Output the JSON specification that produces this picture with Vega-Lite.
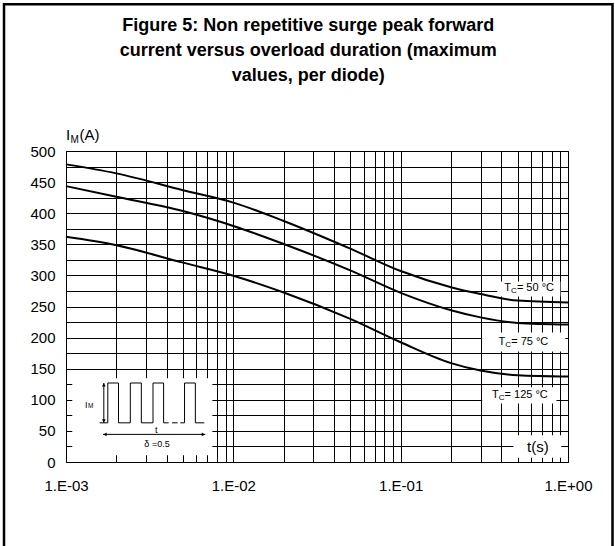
{
  "$schema": "https://vega.github.io/schema/vega-lite/v6.json",
  "width": 502,
  "height": 311,
  "autosize": {"type": "none"},
  "padding": {"left": 66, "top": 151, "right": 47, "bottom": 84},
  "background": "white",
  "title": {
    "text": ["Figure 5: Non repetitive surge peak forward", "current versus overload duration (maximum", "values, per diode)"],
    "font": "Liberation Sans",
    "fontSize": 18,
    "fontWeight": "bold",
    "color": "black",
    "lineHeight": 25,
    "anchor": "middle",
    "frame": "bounds",
    "offset": -82
  },
  "config": {
    "view": {"stroke": "black", "strokeWidth": 1},
    "font": "Liberation Sans",
    "text": {"font": "Liberation Sans", "color": "black"}
  },
  "datasets": {
    "frame": [{"t": 0.0004262, "t2": 1.845, "i": 736, "i2": -158}],
    "boxes": [
      {"name": "inset", "t": 0.00109, "t2": 0.00749, "i": 11, "i2": 134.5},
      {"name": "tc50", "t": 0.378, "t2": 0.9, "i": 266, "i2": 290},
      {"name": "tc75", "t": 0.307, "t2": 0.964, "i": 177.5, "i2": 208},
      {"name": "tc125", "t": 0.307, "t2": 0.853, "i": 94, "i2": 120},
      {"name": "ts", "t": 0.472, "t2": 0.91, "i": 7, "i2": 43}
    ],
    "curves": [
      {"series": "50", "t": 0.001, "i": 478.5},
      {"series": "50", "t": 0.002, "i": 464},
      {"series": "50", "t": 0.005, "i": 437},
      {"series": "50", "t": 0.01, "i": 417},
      {"series": "50", "t": 0.02, "i": 387.5},
      {"series": "50", "t": 0.05, "i": 343},
      {"series": "50", "t": 0.1, "i": 307},
      {"series": "50", "t": 0.2, "i": 281},
      {"series": "50", "t": 0.3, "i": 270},
      {"series": "50", "t": 0.5, "i": 259.5},
      {"series": "50", "t": 1, "i": 256.5},
      {"series": "75", "t": 0.001, "i": 443.5},
      {"series": "75", "t": 0.002, "i": 426.5},
      {"series": "75", "t": 0.005, "i": 403.5},
      {"series": "75", "t": 0.01, "i": 379.5},
      {"series": "75", "t": 0.02, "i": 350.5},
      {"series": "75", "t": 0.05, "i": 308},
      {"series": "75", "t": 0.1, "i": 272},
      {"series": "75", "t": 0.2, "i": 244},
      {"series": "75", "t": 0.3, "i": 232.5},
      {"series": "75", "t": 0.5, "i": 223.5},
      {"series": "75", "t": 1, "i": 221},
      {"series": "125", "t": 0.001, "i": 362},
      {"series": "125", "t": 0.002, "i": 348.5},
      {"series": "125", "t": 0.005, "i": 320.5},
      {"series": "125", "t": 0.01, "i": 299.5},
      {"series": "125", "t": 0.02, "i": 272.5},
      {"series": "125", "t": 0.05, "i": 230},
      {"series": "125", "t": 0.1, "i": 192.5},
      {"series": "125", "t": 0.2, "i": 159},
      {"series": "125", "t": 0.3, "i": 147},
      {"series": "125", "t": 0.5, "i": 139.5},
      {"series": "125", "t": 1, "i": 137.5}
    ],
    "pulse": [
      {"seg": "a", "k": 1, "t": 0.0015884, "i": 63},
      {"seg": "a", "k": 2, "t": 0.0017775, "i": 63},
      {"seg": "a", "k": 3, "t": 0.0017775, "i": 127},
      {"seg": "a", "k": 4, "t": 0.0020597, "i": 127},
      {"seg": "a", "k": 5, "t": 0.0020597, "i": 63},
      {"seg": "a", "k": 6, "t": 0.0024233, "i": 63},
      {"seg": "a", "k": 7, "t": 0.0024233, "i": 127},
      {"seg": "a", "k": 8, "t": 0.002819, "i": 127},
      {"seg": "a", "k": 9, "t": 0.002819, "i": 63},
      {"seg": "a", "k": 10, "t": 0.0033113, "i": 63},
      {"seg": "a", "k": 11, "t": 0.0033113, "i": 127},
      {"seg": "a", "k": 12, "t": 0.0038311, "i": 127},
      {"seg": "a", "k": 13, "t": 0.0038311, "i": 63},
      {"seg": "a", "k": 14, "t": 0.004105, "i": 63},
      {"seg": "b", "k": 1, "t": 0.0043017, "i": 63},
      {"seg": "b", "k": 2, "t": 0.0046474, "i": 63},
      {"seg": "c", "k": 1, "t": 0.0048231, "i": 63},
      {"seg": "c", "k": 2, "t": 0.0051098, "i": 63},
      {"seg": "c", "k": 3, "t": 0.0051098, "i": 127},
      {"seg": "c", "k": 4, "t": 0.0059293, "i": 127},
      {"seg": "c", "k": 5, "t": 0.0059293, "i": 63},
      {"seg": "c", "k": 6, "t": 0.0067083, "i": 63},
      {"seg": "v", "k": 1, "t": 0.0016827, "i": 63},
      {"seg": "v", "k": 2, "t": 0.0016827, "i": 127},
      {"seg": "h", "k": 1, "t": 0.001664, "i": 44.4},
      {"seg": "h", "k": 2, "t": 0.006801, "i": 44.4}
    ],
    "heads": [
      {"dir": "up", "t": 0.0016827, "i": 124},
      {"dir": "down", "t": 0.0016827, "i": 66},
      {"dir": "left", "t": 0.001711, "i": 44.4},
      {"dir": "right", "t": 0.006615, "i": 44.4}
    ],
    "tclabels": [
      {"t": 0.457, "i": 280, "rest": "= 50 °C"},
      {"t": 0.4223, "i": 192.5, "rest": "= 75 °C"},
      {"t": 0.3858, "i": 107.5, "rest": "= 125 °C"}
    ],
    "ylab": [{"t": 0.001, "i": 500}],
    "insettxt": [
      {"t": 0.0034646, "i": 51.4, "txt": "t"},
      {"t": 0.0034984, "i": 28.9, "txt": "δ =0.5"}
    ],
    "insetim": [{"t": 0.0012993, "i": 91.6}],
    "xlab": [{"t": 0.661, "i": 24.5, "txt": "t(s)"}]
  },
  "encoding": {
    "x": {
      "field": "t", "type": "quantitative",
      "scale": {"type": "log", "domain": [0.001, 1], "nice": false},
      "axis": {
        "title": null,
        "values": [0.001, 0.002, 0.003, 0.004, 0.005, 0.006, 0.007, 0.008, 0.009, 0.01, 0.02, 0.03, 0.04, 0.05, 0.06, 0.07, 0.08, 0.09, 0.1, 0.2, 0.3, 0.4, 0.5, 0.6, 0.7, 0.8, 0.9, 1],
        "labelExpr": "abs(log(datum.value)/LN10 - round(log(datum.value)/LN10)) < 0.001 ? ('1.E' + (round(log(datum.value)/LN10) < 0 ? '-' : '+') + '0' + abs(round(log(datum.value)/LN10))) : ''",
        "ticks": false,
        "domain": false,
        "grid": true,
        "gridColor": "black",
        "gridOpacity": 1,
        "gridWidth": 1,
        "labelFont": "Liberation Sans",
        "labelFontSize": 15,
        "labelColor": "black",
        "labelPadding": 16,
        "labelFlush": false,
        "labelOverlap": false,
        "labelBound": false
      }
    },
    "y": {
      "field": "i", "type": "quantitative",
      "scale": {"domain": [0, 500], "nice": false, "zero": false},
      "axis": {
        "title": null,
        "values": [0, 25, 50, 75, 100, 125, 150, 175, 200, 225, 250, 275, 300, 325, 350, 375, 400, 425, 450, 475, 500],
        "labelExpr": "datum.value % 50 == 0 ? datum.label : ''",
        "ticks": false,
        "domain": false,
        "grid": true,
        "gridColor": "black",
        "gridOpacity": 1,
        "gridWidth": 1,
        "labelFont": "Liberation Sans",
        "labelFontSize": 15,
        "labelColor": "black",
        "labelPadding": 11,
        "labelFlush": false,
        "labelOverlap": false
      }
    }
  },
  "layer": [
    {
      "data": {"name": "frame"},
      "mark": {"type": "rect", "filled": false, "stroke": "black", "strokeWidth": 2.5},
      "encoding": {"x2": {"field": "t2"}, "y2": {"field": "i2"}}
    },
    {
      "data": {"name": "boxes"},
      "mark": {"type": "rect", "fill": "white", "strokeWidth": 0},
      "encoding": {"x2": {"field": "t2"}, "y2": {"field": "i2"}}
    },
    {
      "data": {"name": "curves"},
      "mark": {"type": "line", "color": "black", "strokeWidth": 2, "interpolate": "monotone"},
      "encoding": {"detail": {"field": "series", "type": "nominal"}}
    },
    {
      "data": {"name": "pulse"},
      "mark": {"type": "line", "color": "black", "strokeWidth": 1},
      "encoding": {
        "detail": {"field": "seg", "type": "nominal"},
        "order": {"field": "k", "type": "quantitative"}
      }
    },
    {
      "data": {"name": "heads"},
      "mark": {"type": "point", "filled": true, "color": "black", "size": 14, "opacity": 1},
      "encoding": {
        "shape": {"field": "dir", "type": "nominal", "scale": {"domain": ["up", "down", "left", "right"], "range": ["triangle-up", "triangle-down", "triangle-left", "triangle-right"]}, "legend": null}
      }
    },
    {
      "data": {"name": "tclabels"},
      "mark": {"type": "text", "text": "T", "fontSize": 11, "align": "right", "baseline": "middle"},
      "encoding": {}
    },
    {
      "data": {"name": "tclabels"},
      "mark": {"type": "text", "text": "C", "fontSize": 8, "align": "left", "baseline": "middle", "dy": 3},
      "encoding": {}
    },
    {
      "data": {"name": "tclabels"},
      "mark": {"type": "text", "fontSize": 11, "align": "left", "baseline": "middle", "dx": 5.8},
      "encoding": {"text": {"field": "rest", "type": "nominal"}}
    },
    {
      "data": {"name": "ylab"},
      "mark": {"type": "text", "text": "I", "fontSize": 15, "align": "left", "baseline": "alphabetic", "dy": -11},
      "encoding": {}
    },
    {
      "data": {"name": "ylab"},
      "mark": {"type": "text", "text": "M", "fontSize": 10, "align": "left", "baseline": "alphabetic", "dx": 4.5, "dy": -8},
      "encoding": {}
    },
    {
      "data": {"name": "ylab"},
      "mark": {"type": "text", "text": "(A)", "fontSize": 15, "align": "left", "baseline": "alphabetic", "dx": 13.5, "dy": -11},
      "encoding": {}
    },
    {
      "data": {"name": "insettxt"},
      "mark": {"type": "text", "fontSize": 9, "align": "center", "baseline": "middle"},
      "encoding": {"text": {"field": "txt", "type": "nominal"}}
    },
    {
      "data": {"name": "insetim"},
      "mark": {"type": "text", "text": "I", "fontSize": 9, "align": "left", "baseline": "middle"},
      "encoding": {}
    },
    {
      "data": {"name": "insetim"},
      "mark": {"type": "text", "text": "M", "fontSize": 6.5, "align": "left", "baseline": "middle", "dx": 3, "dy": 1},
      "encoding": {}
    },
    {
      "data": {"name": "xlab"},
      "mark": {"type": "text", "fontSize": 15, "align": "center", "baseline": "middle"},
      "encoding": {"text": {"field": "txt", "type": "nominal"}}
    }
  ]
}
